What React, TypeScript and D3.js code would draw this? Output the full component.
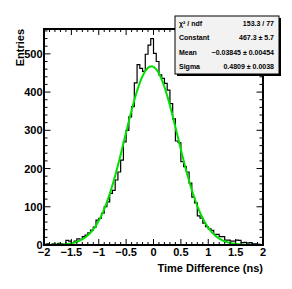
import { useEffect, useRef } from "react";
import * as d3 from "d3";

// histogram range and bin contents (80 bins of 0.05 ns)
const xRange = [-2, 2];
const counts = [
  2, 3, 1, 3, 2, 4, 3, 1, 12, 10,
  6, 10, 16, 15, 22, 26, 32, 39, 47, 65,
  70, 83, 100, 113, 135, 143, 170, 191, 222, 270,
  300, 335, 362, 424, 472, 462, 454, 499, 523, 540,
  501, 480, 445, 436, 423, 405, 370, 330, 272, 268,
  218, 205, 191, 162, 125, 110, 76, 70, 57, 48,
  42, 38, 28, 28, 22, 22, 13, 13, 10, 10,
  13, 12, 6, 7, 5, 6, 3, 3, 2, 1,
];

// gaus fit result
const fitConstant = 467.3;
const fitMean = -0.03845;
const fitSigma = 0.4809;

const xTicks = [-2, -1.5, -1, -0.5, 0, 0.5, 1, 1.5, 2];
const yTicks = [0, 100, 200, 300, 400, 500];

const statsRows = [
  ["χ² / ndf", "153.3 / 77"],
  ["Constant", "467.3 ± 5.7"],
  ["Mean", "−0.03845 ± 0.00454"],
  ["Sigma", "0.4809 ± 0.0038"],
];

const W = 292,
  H = 289,
  left = 44,
  right = 263,
  top = 29,
  bottom = 245,
  yMax = 565;

const App = () => {
  const ref = useRef<SVGSVGElement>(null);

  useEffect(() => {
    const svg = d3.select(ref.current);
    svg.selectAll("*").remove();
    const font = "'Liberation Sans', Arial, Helvetica, sans-serif";

    const x = d3.scaleLinear().domain(xRange).range([left, right]);
    const y = d3.scaleLinear().domain([0, yMax]).range([bottom, top]);
    const binW = (xRange[1] - xRange[0]) / counts.length;

    // histogram outline
    const pts: [number, number][] = [[x(xRange[0]), y(0)]];
    counts.forEach((c, i) => {
      const x0 = xRange[0] + i * binW;
      pts.push([x(x0), y(c)]);
      pts.push([x(x0 + binW), y(c)]);
    });
    pts.push([x(xRange[1]), y(0)]);
    svg
      .append("path")
      .attr("d", d3.line()(pts) as string)
      .attr("fill", "none")
      .attr("stroke", "#000")
      .attr("stroke-width", 1.2);

    // fit curve
    const gaus = (v: number) =>
      fitConstant * Math.exp(-0.5 * Math.pow((v - fitMean) / fitSigma, 2));
    const xs = d3.range(xRange[0], xRange[1] + 0.001, 0.01);
    svg
      .append("path")
      .attr(
        "d",
        d3
          .line<number>()
          .x((d) => x(d))
          .y((d) => y(gaus(d)))(xs) as string
      )
      .attr("fill", "none")
      .attr("stroke", "#00e000")
      .attr("stroke-width", 2);

    // frame
    svg
      .append("rect")
      .attr("x", left)
      .attr("y", top)
      .attr("width", right - left)
      .attr("height", bottom - top)
      .attr("fill", "none")
      .attr("stroke", "#000")
      .attr("stroke-width", 2);

    // ticks
    const ticks = svg.append("g").attr("stroke", "#000").attr("stroke-width", 1);
    d3.range(-2, 2.001, 0.1).forEach((v) => {
      const major = Math.abs(v * 2 - Math.round(v * 2)) < 1e-6;
      const len = major ? 6 : 3;
      ticks.append("line").attr("x1", x(v)).attr("x2", x(v)).attr("y1", bottom).attr("y2", bottom - len);
      ticks.append("line").attr("x1", x(v)).attr("x2", x(v)).attr("y1", top).attr("y2", top + len);
    });
    d3.range(0, yMax, 20).forEach((v) => {
      const major = v % 100 === 0;
      const len = major ? 6.5 : 3.5;
      ticks.append("line").attr("x1", left).attr("x2", left + len).attr("y1", y(v)).attr("y2", y(v));
      ticks.append("line").attr("x1", right).attr("x2", right - len).attr("y1", y(v)).attr("y2", y(v));
    });

    const fmt = (v: number) => (v < 0 ? "−" + String(-v) : String(v));

    // tick labels
    svg
      .append("g")
      .selectAll("text")
      .data(xTicks)
      .enter()
      .append("text")
      .attr("x", (d) => x(d))
      .attr("y", 256)
      .attr("text-anchor", "middle")
      .text((d) => fmt(d));
    svg
      .append("g")
      .selectAll("text")
      .data(yTicks)
      .enter()
      .append("text")
      .attr("x", 42.5)
      .attr("y", (d) => y(d) + 4)
      .attr("text-anchor", "end")
      .text((d) => String(d));

    svg.selectAll("text").style("font-family", font).style("font-size", "11px").style("font-weight", "bold");

    // axis titles
    svg
      .append("text")
      .attr("x", right)
      .attr("y", 272)
      .attr("text-anchor", "end")
      .style("font-family", font)
      .style("font-size", "11px")
      .style("font-weight", "bold")
      .text("Time Difference (ns)");
    svg
      .append("text")
      .attr("transform", `translate(24,${top}) rotate(-90)`)
      .attr("text-anchor", "end")
      .style("font-family", font)
      .style("font-size", "11px")
      .style("font-weight", "bold")
      .text("Entries");

    // stats box
    const bx = 175,
      by = 16,
      bw = 104,
      bh = 58;
    svg.append("rect").attr("x", bx + 2).attr("y", by + 2).attr("width", bw).attr("height", bh).attr("fill", "#000");
    svg
      .append("rect")
      .attr("x", bx)
      .attr("y", by)
      .attr("width", bw)
      .attr("height", bh)
      .attr("fill", "#f2f2f2")
      .attr("stroke", "#000")
      .attr("stroke-width", 1);
    const rowH = bh / statsRows.length;
    statsRows.forEach(([name, val], i) => {
      const cy = by + rowH * (i + 0.5) + 2.5;
      svg
        .append("text")
        .attr("x", bx + 4)
        .attr("y", cy)
        .style("font-family", font)
        .style("font-size", "7px")
        .style("font-weight", "bold")
        .text(name);
      svg
        .append("text")
        .attr("x", bx + bw - 5)
        .attr("y", cy)
        .attr("text-anchor", "end")
        .style("font-family", font)
        .style("font-size", "7px")
        .style("font-weight", "bold")
        .text(val);
    });
  }, []);

  return (
    <svg
      ref={ref}
      width={W}
      height={H}
      style={{ position: "absolute", left: 0, top: 0, background: "#fff" }}
    />
  );
};

export default App;
